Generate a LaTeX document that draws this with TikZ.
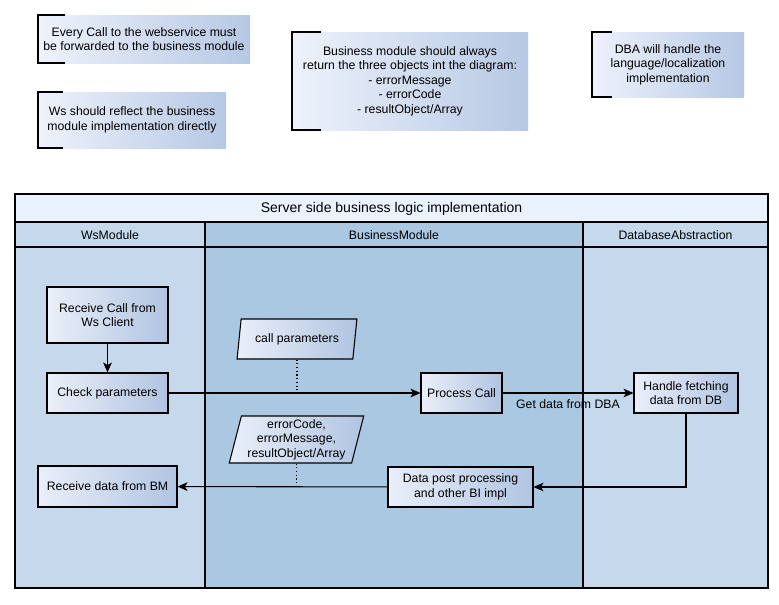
\documentclass[tikz,border=0pt]{standalone}
\usepackage{fontspec}
\setmainfont{Liberation Sans}
\usetikzlibrary{arrows.meta,shapes.geometric}
\definecolor{lanelight}{RGB}{197,216,236}
\definecolor{lanedark}{RGB}{170,200,226}
\definecolor{titleband}{RGB}{234,242,253}
\definecolor{boxleft}{RGB}{234,239,249}
\definecolor{boxright}{RGB}{176,196,225}
\definecolor{noteleft}{RGB}{238,242,251}
\definecolor{noteright}{RGB}{182,200,228}
\tikzset{
  wh/.style 2 args={minimum width=#1*0.75pt, minimum height=#2*0.75pt},
  stepbox/.style={draw=black, line width=0.8pt, left color=boxleft, right color=boxright,
    font=\fontsize{9.2}{10.8}\selectfont, align=center, inner sep=0pt},
  databox/.style={trapezium, trapezium left angle=75, trapezium right angle=105,
    trapezium stretches=true, draw=black, line width=0.8pt,
    left color=boxleft, right color=boxright,
    font=\fontsize{9.2}{10.8}\selectfont, align=center, inner sep=0pt},
  notebox/.style={left color=noteleft, right color=noteright, inner sep=0pt,
    font=\fontsize{9.2}{10.9}\selectfont, align=center},
  bracket/.style={draw=black, line width=1.5pt},
  flow/.style={draw=black, line width=0.8pt, -{Stealth[length=7.5pt,width=6.5pt,inset=2pt]}},
  assoc/.style={draw=black, line width=0.8pt, dash pattern=on 0.8pt off 2pt},
  lanehead/.style={font=\fontsize{9.2}{10.8}\selectfont},
}
\begin{document}
\begin{tikzpicture}[x=0.75pt,y=-0.75pt]
\useasboundingbox (0,0) rectangle (779,604);

% ---------- annotations ----------
\node[notebox, wh={212}{48}] (n1) at (144,39)
  {Every Call to the webservice must\\be forwarded to the business module};
\draw[bracket] ([xshift=27*0.75pt]n1.north west) -- (n1.north west) -- (n1.south west) -- ([xshift=27*0.75pt]n1.south west);

\node[notebox, wh={188}{56}] (n2) at (132,120)
  {Ws should reflect the business\\module implementation directly};
\draw[bracket] ([xshift=25*0.75pt]n2.north west) -- (n2.north west) -- (n2.south west) -- ([xshift=25*0.75pt]n2.south west);

\node[notebox, wh={236}{98}] (n3) at (410,81)
  {Business module should always\\return the three objects int the diagram:\\- errorMessage\\- errorCode\\- resultObject/Array};
\draw[bracket] ([xshift=29*0.75pt]n3.north west) -- (n3.north west) -- (n3.south west) -- ([xshift=29*0.75pt]n3.south west);

\node[notebox, wh={152}{65}] (n4) at (668,64.5)
  {DBA will handle the\\language/localization\\implementation};
\draw[bracket] ([xshift=20*0.75pt]n4.north west) -- (n4.north west) -- (n4.south west) -- ([xshift=20*0.75pt]n4.south west);

% ---------- pool and lanes ----------
\fill[titleband] (15,194) rectangle (768,222);
\fill[lanelight] (15,222) rectangle (205,588);
\fill[lanedark] (205,222) rectangle (583,588);
\fill[lanelight] (583,222) rectangle (768,588);
\draw[line width=0.8pt] (15,194) rectangle (768,588);
\draw[line width=0.8pt] (15,222) -- (768,222);
\draw[line width=0.8pt] (15,247) -- (768,247);
\draw[line width=0.8pt] (205,222) -- (205,588);
\draw[line width=0.8pt] (583,222) -- (583,588);
\node[font=\fontsize{10.5}{12}\selectfont] (pooltitle) at (391.5,209) {Server side business logic implementation};
\node[lanehead] (laneWs) at (110,235.5) {WsModule};
\node[lanehead] (laneBM) at (394,235.5) {BusinessModule};
\node[lanehead] (laneDB) at (675.5,235.5) {DatabaseAbstraction};

% ---------- steps ----------
\node[stepbox, wh={121}{56}] (rc) at (107.5,315) {Receive Call from\\Ws Client};
\node[stepbox, wh={121}{40}] (chk) at (107.5,393) {Check parameters};
\node[stepbox, wh={139}{41}] (rd) at (107.5,486.5) {Receive data from BM};
\node[stepbox, wh={81}{40}] (pc) at (461.5,393) {Process Call};
\node[stepbox, wh={104}{40}] (hf) at (686,393) {Handle fetching\\data from DB};
\node[stepbox, wh={145}{40}] (dp) at (460.5,487) {Data post processing\\and other BI impl};

\node[databox, wh={120}{40}] (cp) at (297,339) {call parameters};
\node[databox, wh={135}{47}] (ec) at (296.5,439.5) {errorCode,\\errorMessage,\\resultObject/Array};

% ---------- connectors ----------
\draw[flow] (rc) -- (chk);
\draw[flow] (chk) -- (pc);
\draw[flow] (pc) -- node[below=1pt, lanehead] (getlbl) {Get data from DBA} (hf);
\draw[flow] (hf.south) |- (dp.east);
\draw[flow] (dp) -- (rd);
\draw[assoc] (cp.south) -- (cp.south |- chk.east);
\draw[assoc] (ec.south) -- (ec.south |- dp.west);
\end{tikzpicture}
\end{document}
